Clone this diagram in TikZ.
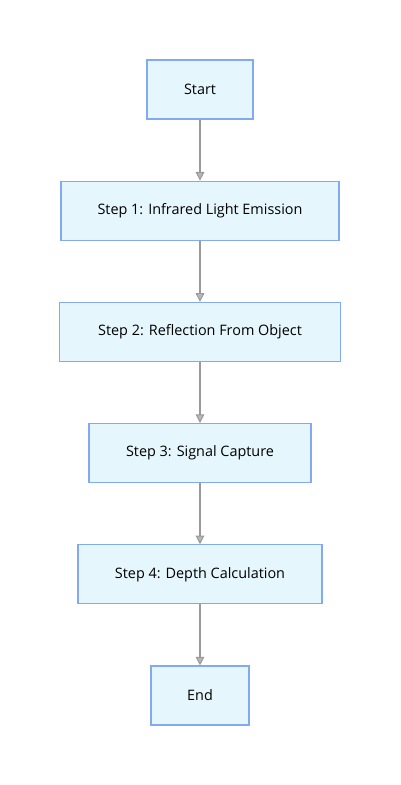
\documentclass[tikz,border=0pt]{standalone}
\usepackage{fontspec}
\setmainfont{Open Sans}
\usetikzlibrary{positioning,arrows.meta}

\definecolor{boxfill}{HTML}{E6F6FD}
\definecolor{boxline}{HTML}{82AAF2}
\definecolor{flowgray}{HTML}{9A9A9A}

\tikzset{
    stepbox/.style={draw=boxline, fill=boxfill, line width=0.8pt,
        minimum height=44.25pt, inner sep=0pt,
        font=\fontsize{10.8}{12}\selectfont},
    flow/.style={draw=flowgray, line width=0.8pt,
        -{Triangle[length=6.5pt, width=6.5pt, fill=flowgray!70]}}
}

\begin{document}
\begin{tikzpicture}[node distance=45.85pt]

    % cornice della pagina
    \useasboundingbox (0,0) rectangle (300pt,-588.75pt);

    % --- BLOCCHI ---
    \node[stepbox, minimum width=79.5pt] (start) at (150pt,-67.1pt) {Start};
    \node[stepbox, minimum width=208.5pt, below=of start] (emit) {Step 1: Infrared Light Emission};
    \node[stepbox, minimum width=210.75pt, below=of emit] (reflect) {Step 2: Reflection From Object};
    \node[stepbox, minimum width=166.5pt, below=of reflect] (capture) {Step 3: Signal Capture};
    \node[stepbox, minimum width=183pt, below=of capture] (depth) {Step 4: Depth Calculation};
    \node[stepbox, minimum width=73.5pt, below=of depth] (end) {End};

    % --- FRECCE ---
    \foreach \a/\b in {start/emit, emit/reflect, reflect/capture, capture/depth, depth/end} {
        \draw[flow] (\a) -- (\b);
    }

\end{tikzpicture}
\end{document}
